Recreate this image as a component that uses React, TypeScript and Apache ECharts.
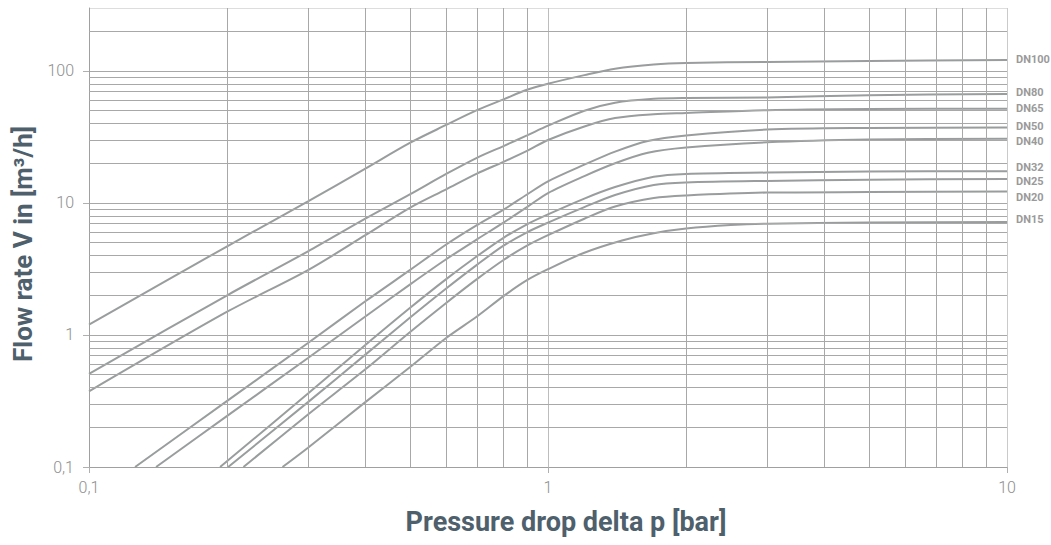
import React, { useEffect, useRef } from "react";
import * as echarts from "echarts";

// Pressure drop [bar] vs flow rate [m3/h] per nominal size
const dn100 = [[0.1, 1.2], [0.2, 4.7], [0.3, 10.3], [0.4, 18.2], [0.5, 28.5], [0.6, 39], [0.7, 50.5], [0.8, 61], [0.9, 72], [1, 80], [1.2, 93], [1.4, 104], [1.7, 112], [2, 115], [3, 117], [5, 119], [10, 121]];
const dn80 = [[0.1, 0.507], [0.2, 2.0], [0.3, 4.3], [0.4, 7.6], [0.5, 11.6], [0.6, 16.6], [0.7, 22], [0.8, 27], [0.9, 32.5], [1, 38.5], [1.2, 50], [1.4, 57.5], [1.7, 61.5], [2, 62.4], [3, 63], [5, 65.5], [10, 67]];
const dn65 = [[0.1, 0.374], [0.2, 1.5], [0.3, 3.1], [0.4, 5.7], [0.5, 9.2], [0.6, 12.7], [0.7, 16.7], [0.8, 20.5], [0.9, 24.8], [1, 30], [1.2, 38], [1.4, 44], [1.7, 47], [2, 48], [3, 50.5], [5, 51.5], [10, 51.8]];
const dn50 = [[0.126, 0.1], [0.2, 0.317], [0.3, 0.87], [0.4, 1.8], [0.5, 3.1], [0.6, 4.85], [0.7, 6.8], [0.8, 8.9], [0.9, 11.6], [1, 14.6], [1.2, 19.5], [1.4, 24.5], [1.65, 29.5], [2, 32.5], [3, 36], [5, 37], [10, 37.3]];
const dn40 = [[0.14, 0.1], [0.2, 0.244], [0.3, 0.67], [0.4, 1.38], [0.5, 2.41], [0.6, 3.75], [0.7, 5.3], [0.8, 7.1], [0.9, 9.3], [1, 11.9], [1.2, 16], [1.4, 20], [1.65, 24], [2, 26.3], [3, 28.8], [5, 30.2], [10, 30.7]];
const dn32 = [[0.193, 0.1], [0.3, 0.36], [0.4, 0.84], [0.5, 1.6], [0.6, 2.65], [0.7, 3.95], [0.8, 5.45], [0.9, 6.9], [1, 8.2], [1.2, 10.8], [1.4, 13.2], [1.7, 15.8], [2, 16.6], [3, 17], [5, 17.3], [10, 17.4]];
const dn25 = [[0.201, 0.1], [0.3, 0.31], [0.4, 0.71], [0.5, 1.35], [0.6, 2.25], [0.7, 3.4], [0.8, 4.75], [0.9, 6.0], [1, 7.1], [1.2, 9.3], [1.4, 11.5], [1.7, 13.7], [2, 14.3], [3, 14.7], [5, 15], [10, 15.2]];
const dn20 = [[0.217, 0.1], [0.3, 0.25], [0.4, 0.55], [0.5, 1.05], [0.6, 1.75], [0.7, 2.65], [0.8, 3.7], [0.9, 4.75], [1, 5.7], [1.2, 7.6], [1.4, 9.4], [1.7, 10.9], [2, 11.4], [3, 12.0], [5, 12.1], [10, 12.2]];
const dn15 = [[0.264, 0.1], [0.3, 0.14], [0.4, 0.31], [0.5, 0.57], [0.6, 0.95], [0.7, 1.38], [0.8, 1.97], [0.9, 2.6], [1, 3.15], [1.2, 4.2], [1.45, 5.2], [1.7, 5.9], [2, 6.4], [2.5, 6.8], [3, 6.96], [5, 7.1], [10, 7.18]];

const seriesNames = ["DN100", "DN80", "DN65", "DN50", "DN40", "DN32", "DN25", "DN20", "DN15"];
const seriesData = [dn100, dn80, dn65, dn50, dn40, dn32, dn25, dn20, dn15];
const labelOffsetY = [-1, -1, 0, -1, 3, -4, 3, 6, -2];

// Minor grid values
const xMinorGrid = [0.2, 0.3, 0.4, 0.5, 0.6, 0.7, 0.8, 0.9, 2, 3, 4, 5, 6, 7, 8, 9];
const yMinorGrid = [0.2, 0.3, 0.4, 0.5, 0.6, 0.7, 0.8, 0.9, 2, 3, 4, 5, 6, 7, 8, 9, 20, 30, 40, 50, 60, 70, 80, 90, 200];

const xTitle = "Pressure drop delta p [bar]";
const yTitle = "Flow rate V in [m³/h]";

const fmt = (v: number) => (v < 1 ? v.toFixed(1).replace(".", ",") : String(Math.round(v)));

export default function App() {
  const ref = useRef<HTMLDivElement>(null);
  useEffect(() => {
    document.body.style.margin = "0";
    const chart = echarts.init(ref.current!, null, { renderer: "svg" });
    const gridColor = "#a8a8a8";
    const labelStyle = { color: "#8e8e8e", fontSize: 16, fontFamily: "Roboto", fontWeight: 300 as any };
    const titleColor = "#4e606c";
    chart.setOption({
      animation: false,
      backgroundColor: "#ffffff",
      grid: { left: 89, right: 44, top: 8, bottom: 78, containLabel: false },
      xAxis: {
        type: "log",
        logBase: 10,
        min: 0.1,
        max: 10,
        axisLine: { show: true, lineStyle: { color: "#a0a0a0", width: 1 } },
        axisTick: { show: true, length: 6, inside: false, lineStyle: { color: "#b0b0b0" } },
        axisLabel: { ...labelStyle, margin: 12, formatter: fmt },
        splitLine: { show: true, lineStyle: { color: [gridColor, "#bdbdbd", "#cacaca"], width: 1 } },
        minorTick: { show: false },
        minorSplitLine: { show: false },
      },
      yAxis: {
        type: "log",
        logBase: 10,
        min: 0.1,
        max: 300,
        axisLine: { show: true, lineStyle: { color: "#a0a0a0", width: 1 } },
        axisTick: { show: true, length: 6, inside: false, lineStyle: { color: "#b0b0b0" } },
        axisLabel: { ...labelStyle, margin: 15, formatter: fmt, showMaxLabel: false },
        splitLine: { show: true, lineStyle: { color: [gridColor, gridColor, gridColor, gridColor, "#dddddd"], width: 1 } },
        minorTick: { show: false },
        minorSplitLine: { show: false },
      },
      graphic: [
        {
          type: "text",
          x: 566,
          y: 522,
          style: { text: xTitle, font: "bold 27px Roboto", fill: titleColor, textAlign: "center", textVerticalAlign: "middle" },
        },
        {
          type: "text",
          x: 23,
          y: 244,
          rotation: Math.PI / 2,
          style: { text: yTitle, font: "bold 26px Roboto", fill: titleColor, textAlign: "center", textVerticalAlign: "middle" },
        },
      ],
      series: [
        {
          type: "line",
          name: "grid",
          data: [[1, 1]],
          showSymbol: false,
          symbol: "none",
          lineStyle: { opacity: 0 },
          z: 1,
          silent: true,
          markLine: {
            silent: true,
            symbol: ["none", "none"],
            label: { show: false },
            lineStyle: { color: gridColor, width: 1, type: "solid" },
            emphasis: { disabled: true },
            data: [
              ...xMinorGrid.map((v) => ({ xAxis: v })),
              ...yMinorGrid.map((v) => ({ yAxis: v })),
            ],
          },
        },
        ...seriesNames.map((name, i) => ({
          type: "line",
          name,
          data: seriesData[i],
          smooth: 0.3,
          showSymbol: false,
          symbol: "none",
          z: 3,
          lineStyle: { color: "#999d9d", width: 2 },
          endLabel: {
            show: true,
            formatter: "{a}",
            color: "#9a9a9a",
            fontSize: 11,
            fontWeight: "bold",
            fontFamily: "Roboto",
            distance: 9,
            offset: [0, labelOffsetY[i]],
          },
        })),
      ],
    });
    return () => chart.dispose();
  }, []);
  return <div ref={ref} style={{ width: 1051, height: 545 }} />;
}
